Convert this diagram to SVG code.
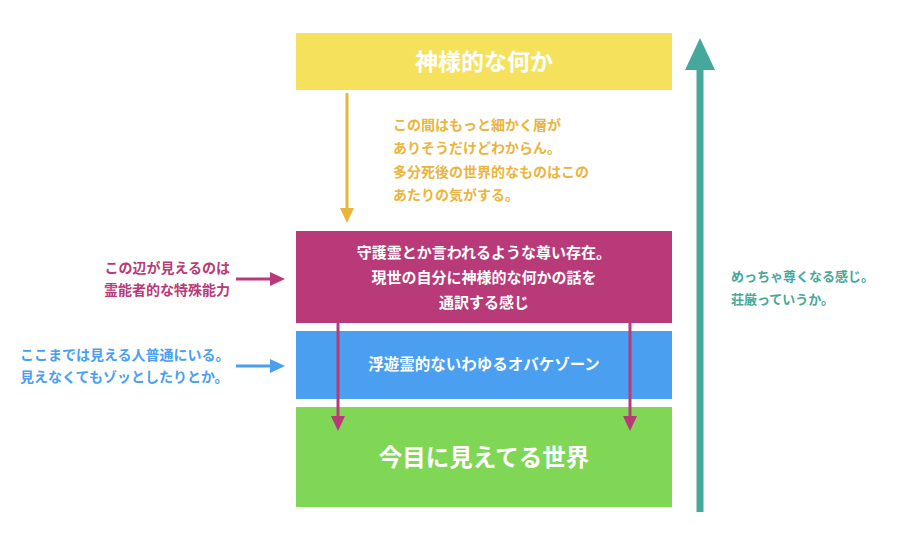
<svg xmlns="http://www.w3.org/2000/svg" width="924" height="538" viewBox="0 0 924 538">
<style>
text{font-family:"Noto Sans CJK JP","Noto Sans",sans-serif;font-weight:bold}
.w{fill:#fff}
.o{fill:#ebb43c;font-size:14px}
.m{fill:#b83a78;font-size:14px}
.b{fill:#4a9ff0;font-size:14px}
.t{fill:#45a89a;font-size:13px}
</style>
<rect width="924" height="538" fill="#fff"/>
<g id="top"><rect x="296" y="33" width="376" height="57" fill="#f5e15c"/><text class="w" x="484" y="70" font-size="23" text-anchor="middle">神様的な何か</text></g>
<g id="guard"><rect x="296" y="231" width="376" height="92" fill="#b83a78"/>
<text class="w" font-size="15" text-anchor="middle"><tspan x="484" y="258">守護霊とか言われるような尊い存在。</tspan><tspan x="484" y="283">現世の自分に神様的な何かの話を</tspan><tspan x="484" y="308">通訳する感じ</tspan></text></g>
<g id="ghost"><rect x="296" y="331" width="376" height="68" fill="#4a9ff0"/><text class="w" x="484" y="370" font-size="15.5" text-anchor="middle">浮遊霊的ないわゆるオバケゾーン</text></g>
<g id="world"><rect x="296" y="407" width="376" height="100" fill="#80d655"/><text class="w" x="484" y="466" font-size="23.5" text-anchor="middle">今目に見えてる世界</text></g>
<g id="notes">
<text class="o"><tspan x="393" y="130">この間はもっと細かく層が</tspan><tspan x="393" y="153">ありそうだけどわからん。</tspan><tspan x="393" y="177">多分死後の世界的なものはこの</tspan><tspan x="393" y="200">あたりの気がする。</tspan></text>
<text class="m" text-anchor="end"><tspan x="230" y="273">この辺が見えるのは</tspan><tspan x="230" y="295">霊能者的な特殊能力</tspan></text>
<text class="b"><tspan x="20" y="360">ここまでは見える人普通にいる。</tspan><tspan x="20" y="382">見えなくてもゾッとしたりとか。</tspan></text>
<text class="t"><tspan x="731" y="281">めっちゃ尊くなる感じ。</tspan><tspan x="731" y="304">荘厳っていうか。</tspan></text>
</g>
<g id="connectors">
<line x1="347" y1="93" x2="347" y2="210" stroke="#ebb43c" stroke-width="3"/><path d="M340,208L354,208L347,223z" fill="#ebb43c"/>
<line x1="338" y1="323" x2="338" y2="418" stroke="#b83a78" stroke-width="3"/><path d="M331,416L345,416L338,431z" fill="#b83a78"/>
<line x1="630" y1="323" x2="630" y2="418" stroke="#b83a78" stroke-width="3"/><path d="M623,416L637,416L630,431z" fill="#b83a78"/>
<line x1="236" y1="279" x2="272" y2="279" stroke="#b83a78" stroke-width="3"/><path d="M270,272L285,279L270,286z" fill="#b83a78"/>
<line x1="236" y1="366" x2="272" y2="366" stroke="#4a9ff0" stroke-width="3"/><path d="M270,359L285,366L270,373z" fill="#4a9ff0"/>
<line x1="700" y1="512" x2="700" y2="66" stroke="#45a89a" stroke-width="7"/><path d="M685,70L700,38L715,70z" fill="#45a89a"/>
</g>
</svg>
